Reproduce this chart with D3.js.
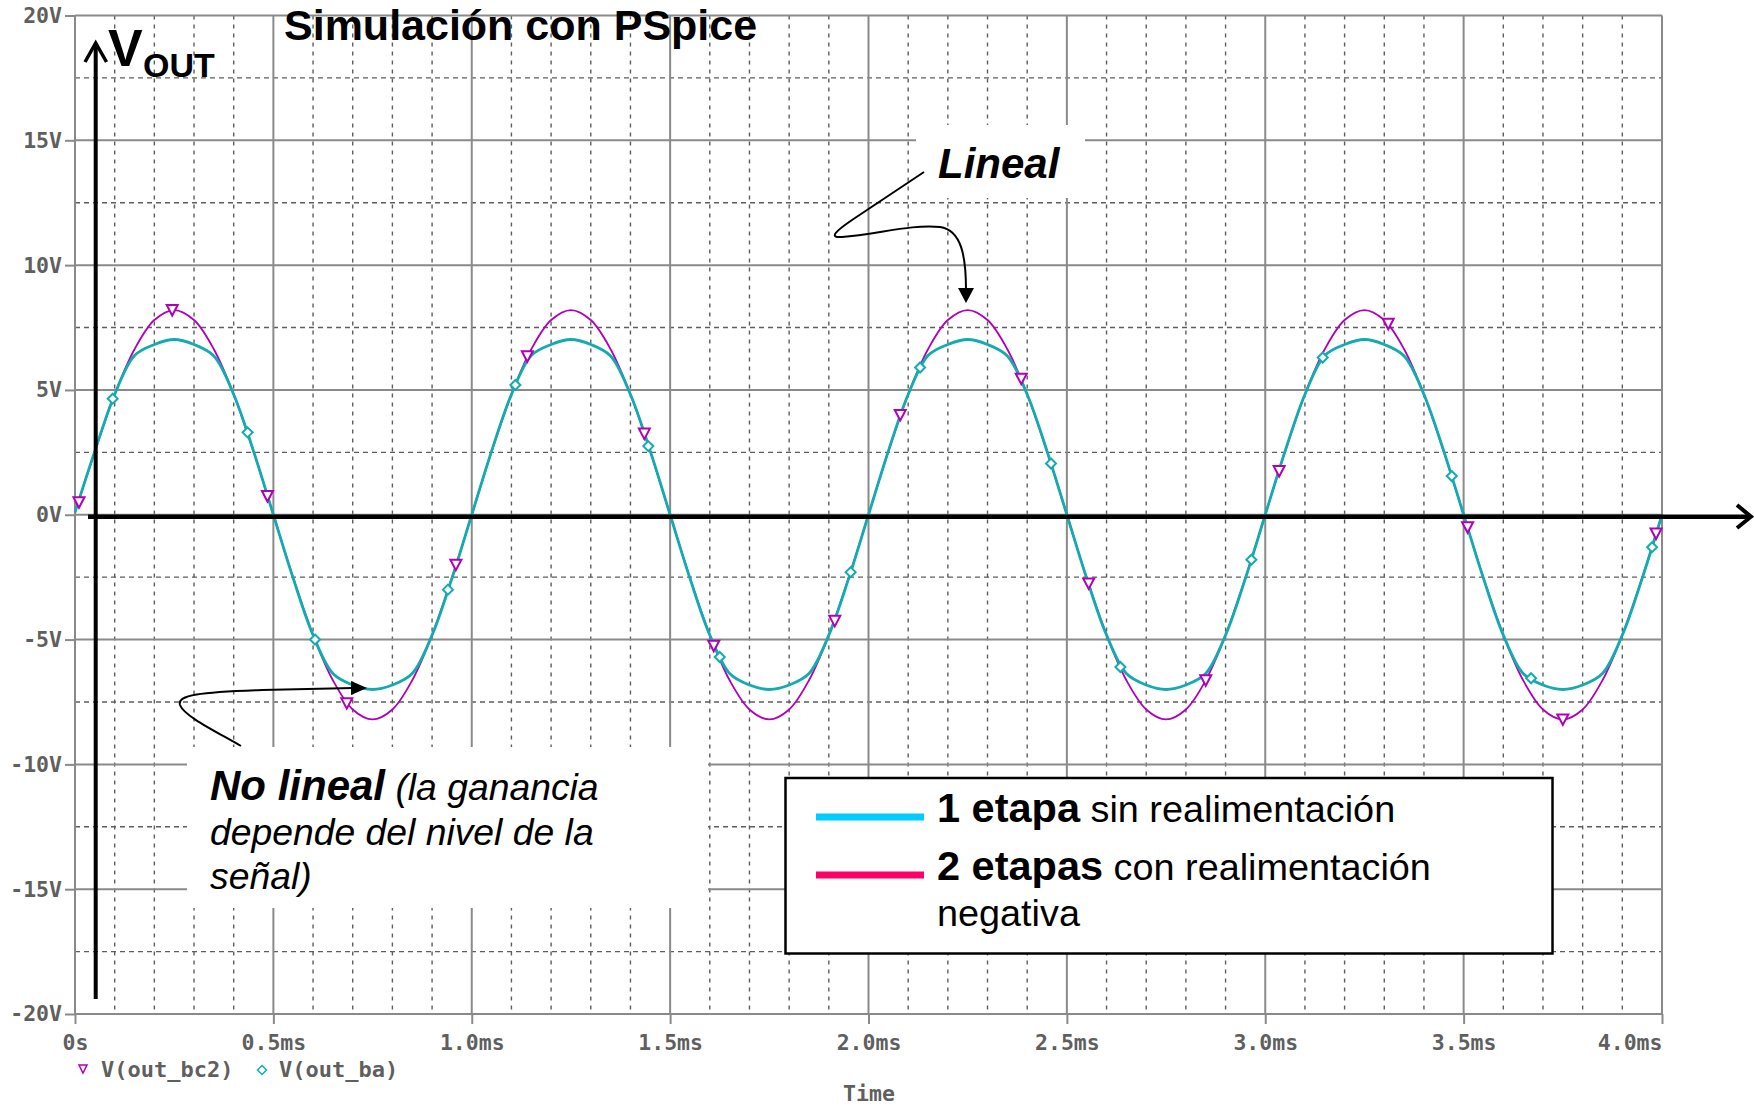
<!DOCTYPE html>
<html>
<head>
<meta charset="utf-8">
<script src="https://cdn.jsdelivr.net/npm/d3@7"></script>
<style>
  body { margin: 0; background: #fff; }
  svg { display: block; }
</style>
</head>
<body>
<div id="chart"></div>
<script>
// sample times (ms)
const timeMs = [
  0, 0.05, 0.1, 0.15, 0.2, 0.25, 0.3, 0.35, 0.4, 0.45,
  0.5, 0.55, 0.6, 0.65, 0.7, 0.75, 0.8, 0.85, 0.9, 0.95,
  1, 1.05, 1.1, 1.15, 1.2, 1.25, 1.3, 1.35, 1.4, 1.45,
  1.5, 1.55, 1.6, 1.65, 1.7, 1.75, 1.8, 1.85, 1.9, 1.95,
  2, 2.05, 2.1, 2.15, 2.2, 2.25, 2.3, 2.35, 2.4, 2.45,
  2.5, 2.55, 2.6, 2.65, 2.7, 2.75, 2.8, 2.85, 2.9, 2.95,
  3, 3.05, 3.1, 3.15, 3.2, 3.25, 3.3, 3.35, 3.4, 3.45,
  3.5, 3.55, 3.6, 3.65, 3.7, 3.75, 3.8, 3.85, 3.9, 3.95,
  4
]

// V(out_bc2) : 2 etapas con realimentación
const vOutBc2 = [
  0.1, 2.53, 4.82, 6.63, 7.8, 8.2, 7.8, 6.63, 4.82, 2.53,
  0, -2.53, -4.82, -6.63, -7.8, -8.2, -7.8, -6.63, -4.82, -2.53,
  0, 2.53, 4.82, 6.63, 7.8, 8.2, 7.8, 6.63, 4.82, 2.53,
  0, -2.53, -4.82, -6.63, -7.8, -8.2, -7.8, -6.63, -4.82, -2.53,
  0, 2.53, 4.82, 6.63, 7.8, 8.2, 7.8, 6.63, 4.82, 2.53,
  0, -2.53, -4.82, -6.63, -7.8, -8.2, -7.8, -6.63, -4.82, -2.53,
  0, 2.53, 4.82, 6.63, 7.8, 8.2, 7.8, 6.63, 4.82, 2.53,
  0, -2.53, -4.82, -6.63, -7.8, -8.2, -7.8, -6.63, -4.82, -2.53,
  0
]

// V(out_ba) : 1 etapa sin realimentación
const vOutBa = [
  0.1, 2.55, 4.82, 6.38, 6.82, 7.02, 6.82, 6.36, 4.82, 2.55,
  0, -2.55, -4.82, -6.36, -6.82, -7.0, -6.82, -6.36, -4.82, -2.55,
  0, 2.55, 4.82, 6.38, 6.82, 7.02, 6.82, 6.36, 4.82, 2.55,
  0, -2.55, -4.82, -6.36, -6.82, -7.0, -6.82, -6.36, -4.82, -2.55,
  0, 2.55, 4.82, 6.38, 6.82, 7.02, 6.82, 6.36, 4.82, 2.55,
  0, -2.55, -4.82, -6.36, -6.82, -7.0, -6.82, -6.36, -4.82, -2.55,
  0, 2.55, 4.82, 6.38, 6.82, 7.02, 6.82, 6.36, 4.82, 2.55,
  0, -2.55, -4.82, -6.36, -6.82, -7.0, -6.82, -6.36, -4.82, -2.55,
  0
]

// PSpice trace markers [time ms, volts]
const markersBc2 = [
  [0.01, 0.5], [0.245, 8.2], [0.485, 0.75], [0.685, -7.55], [0.96, -2.0],
  [1.14, 6.35], [1.435, 3.25], [1.61, -5.25], [1.915, -4.25], [2.08, 4.0],
  [2.385, 5.45], [2.555, -2.75], [2.85, -6.63], [3.035, 1.75], [3.31, 7.65],
  [3.51, -0.5], [3.75, -8.2], [3.985, -0.75]
]
const markersBa = [
  [0.095, 4.65], [0.435, 3.3], [0.605, -5.0], [0.94, -3.0], [1.11, 5.2],
  [1.445, 2.75], [1.625, -5.7], [1.955, -2.3], [2.13, 5.9], [2.46, 2.05],
  [2.635, -6.1], [2.965, -1.8], [3.145, 6.3], [3.47, 1.55], [3.67, -6.55],
  [3.975, -1.3]
]

// ticks
const xTicks = [0, 0.5, 1, 1.5, 2, 2.5, 3, 3.5, 4]
const xTickLabels = ['0s', '0.5ms', '1.0ms', '1.5ms', '2.0ms', '2.5ms', '3.0ms', '3.5ms', '4.0ms']
const yTicks = [20, 15, 10, 5, 0, -5, -10, -15, -20]
const yTickLabels = ['20V', '15V', '10V', '5V', '0V', '-5V', '-10V', '-15V', '-20V']

const width = 1754
const height = 1107
const mono = "'DejaVu Sans Mono', monospace"
const sans = "'Liberation Sans', Arial, sans-serif"
const magenta = '#b000b8'
const teal = '#14abb0'
const labelGrey = '#5f5f5f'

const svg = d3
  .select('#chart')
  .append('svg')
  .attr('width', width)
  .attr('height', height)

const x = d3.scaleLinear().domain([0, 4]).range([75, 1662])
const y = d3.scaleLinear().domain([-20, 20]).range([1014, 15.5])

// Grid: dashed minor lines first, then the solid ones
const xMinor = d3.range(1, 40).filter(i => i % 5 !== 0).map(i => i / 10)
const yMinor = d3.range(-17.5, 20, 5)

const grid = svg.append('g')

grid
  .selectAll('.v-minor')
  .data(xMinor)
  .enter()
  .append('line')
  .attr('x1', d => x(d))
  .attr('x2', d => x(d))
  .attr('y1', y(20))
  .attr('y2', y(-20))
  .attr('stroke', '#5e5e5e')
  .attr('stroke-width', 1.4)
  .attr('stroke-dasharray', '4,5')

grid
  .selectAll('.h-minor')
  .data(yMinor)
  .enter()
  .append('line')
  .attr('x1', x(0))
  .attr('x2', x(4))
  .attr('y1', d => y(d))
  .attr('y2', d => y(d))
  .attr('stroke', '#5e5e5e')
  .attr('stroke-width', 1.4)
  .attr('stroke-dasharray', '5,4')

grid
  .selectAll('.v-major')
  .data(xTicks)
  .enter()
  .append('line')
  .attr('x1', d => x(d))
  .attr('x2', d => x(d))
  .attr('y1', y(20))
  .attr('y2', y(-20))
  .attr('stroke', '#8a8a8a')
  .attr('stroke-width', 2)

grid
  .selectAll('.h-major')
  .data(yTicks)
  .enter()
  .append('line')
  .attr('x1', x(0))
  .attr('x2', x(4))
  .attr('y1', d => y(d))
  .attr('y2', d => y(d))
  .attr('stroke', '#8a8a8a')
  .attr('stroke-width', 2)

// Axes (PSpice style labels)
const yAxis = d3
  .axisLeft(y)
  .tickValues(yTicks)
  .tickFormat((d, i) => yTickLabels[i])
  .tickSize(10)
  .tickPadding(3)

const xAxis = d3
  .axisBottom(x)
  .tickValues(xTicks)
  .tickFormat((d, i) => xTickLabels[i])
  .tickSize(10)
  .tickPadding(11)

svg
  .append('g')
  .attr('class', 'y-axis')
  .attr('transform', 'translate(' + x(0) + ',0)')
  .call(yAxis)

svg
  .append('g')
  .attr('class', 'x-axis')
  .attr('transform', 'translate(0,' + y(-20) + ')')
  .call(xAxis)

svg.selectAll('.x-axis .domain, .y-axis .domain').remove()
svg
  .selectAll('.x-axis line, .y-axis line')
  .attr('stroke', '#8a8a8a')
  .attr('stroke-width', 2)
svg
  .selectAll('.x-axis text, .y-axis text')
  .attr('font-family', mono)
  .attr('font-weight', 'bold')
  .attr('font-size', 21.5)
  .attr('fill', labelGrey)
svg
  .selectAll('.x-axis text')
  .filter((d, i) => i === xTicks.length - 1)
  .attr('text-anchor', 'end')

// Traces
const traces = [
  { name: 'V(out_bc2)', values: vOutBc2, color: magenta, width: 1.8 },
  { name: 'V(out_ba)', values: vOutBa, color: teal, width: 2.8 }
]

const line = d3
  .line()
  .x((d, i) => x(timeMs[i]))
  .y(d => y(d))
  .curve(d3.curveCatmullRom.alpha(0.5))

svg
  .selectAll('.trace')
  .data(traces)
  .enter()
  .append('path')
  .attr('class', 'trace')
  .attr('d', d => line(d.values))
  .attr('fill', 'none')
  .attr('stroke', d => d.color)
  .attr('stroke-width', d => d.width)

const triangle = 'M-5.5,-5L5.5,-5L0,5.5Z'
const diamond = 'M0,-5L5,0L0,5L-5,0Z'

svg
  .selectAll('.mk-bc2')
  .data(markersBc2)
  .enter()
  .append('path')
  .attr('d', triangle)
  .attr('transform', d => 'translate(' + x(d[0]) + ',' + y(d[1]) + ')')
  .attr('fill', '#fff')
  .attr('stroke', magenta)
  .attr('stroke-width', 2)

svg
  .selectAll('.mk-ba')
  .data(markersBa)
  .enter()
  .append('path')
  .attr('d', diamond)
  .attr('transform', d => 'translate(' + x(d[0]) + ',' + y(d[1]) + ')')
  .attr('fill', '#fff')
  .attr('stroke', teal)
  .attr('stroke-width', 2)

// trace legend under the axis
svg
  .append('path')
  .attr('d', 'M-4,-4L4,-4L0,4Z')
  .attr('transform', 'translate(83,1069)')
  .attr('fill', 'none')
  .attr('stroke', magenta)
  .attr('stroke-width', 1.5)
svg
  .append('text')
  .text(traces[0].name)
  .attr('x', 101)
  .attr('y', 1077)
  .attr('font-family', mono)
  .attr('font-weight', 'bold')
  .attr('font-size', 22)
  .attr('fill', labelGrey)
svg
  .append('path')
  .attr('d', 'M0,-4.5L4.5,0L0,4.5L-4.5,0Z')
  .attr('transform', 'translate(262,1070)')
  .attr('fill', 'none')
  .attr('stroke', teal)
  .attr('stroke-width', 1.5)
svg
  .append('text')
  .text(traces[1].name)
  .attr('x', 279)
  .attr('y', 1077)
  .attr('font-family', mono)
  .attr('font-weight', 'bold')
  .attr('font-size', 22)
  .attr('fill', labelGrey)
svg
  .append('text')
  .text('Time')
  .attr('x', 869)
  .attr('y', 1101)
  .attr('text-anchor', 'middle')
  .attr('font-family', mono)
  .attr('font-weight', 'bold')
  .attr('font-size', 21.5)
  .attr('fill', labelGrey)

// Black axis arrows drawn over the plot
svg
  .append('line')
  .attr('x1', 88)
  .attr('x2', 1751)
  .attr('y1', 516.7)
  .attr('y2', 516.7)
  .attr('stroke', '#000')
  .attr('stroke-width', 4.5)
svg
  .append('path')
  .attr('d', 'M1737,505L1751,516.7L1737,528')
  .attr('fill', 'none')
  .attr('stroke', '#000')
  .attr('stroke-width', 4)
svg
  .append('line')
  .attr('x1', 95.7)
  .attr('x2', 95.7)
  .attr('y1', 999)
  .attr('y2', 44)
  .attr('stroke', '#000')
  .attr('stroke-width', 4)
svg
  .append('path')
  .attr('d', 'M85,62L95.7,43L106.5,62')
  .attr('fill', 'none')
  .attr('stroke', '#000')
  .attr('stroke-width', 3.5)

svg
  .append('text')
  .attr('x', 108)
  .attr('y', 66)
  .attr('font-family', sans)
  .attr('font-weight', 'bold')
  .attr('font-size', 52)
  .text('V')
  .append('tspan')
  .attr('x', 143)
  .attr('y', 77)
  .attr('font-size', 34)
  .text('OUT')

svg
  .append('text')
  .attr('x', 284)
  .attr('y', 40)
  .attr('font-family', sans)
  .attr('font-weight', 'bold')
  .attr('font-size', 43)
  .text('Simulación con PSpice')

// "Lineal" callout
svg
  .append('rect')
  .attr('x', 916)
  .attr('y', 125)
  .attr('width', 169)
  .attr('height', 73)
  .attr('fill', '#fff')
svg
  .append('text')
  .attr('x', 938)
  .attr('y', 178)
  .attr('font-family', sans)
  .attr('font-weight', 'bold')
  .attr('font-style', 'italic')
  .attr('font-size', 42)
  .text('Lineal')
svg
  .append('path')
  .attr('d', 'M924,172L852,220C836,231 828,238 842,237C878,234 912,224 940,227C962,230 966,258 966,290')
  .attr('fill', 'none')
  .attr('stroke', '#000')
  .attr('stroke-width', 2)
svg
  .append('path')
  .attr('d', 'M958,288L974,288L966,303Z')
  .attr('fill', '#000')

// "No lineal" callout
svg
  .append('rect')
  .attr('x', 187)
  .attr('y', 747)
  .attr('width', 521)
  .attr('height', 161)
  .attr('fill', '#fff')
svg
  .append('path')
  .attr('d', 'M241,746C215,731 184,716 180,705C177,695 200,692 262,690L353,688')
  .attr('fill', 'none')
  .attr('stroke', '#000')
  .attr('stroke-width', 2)
svg
  .append('path')
  .attr('d', 'M351,681L367,688L351,695Z')
  .attr('fill', '#000')

const noLin = svg
  .append('text')
  .attr('font-family', sans)
  .attr('font-style', 'italic')
  .attr('font-size', 37.3)
noLin
  .append('tspan')
  .attr('x', 210)
  .attr('y', 800)
  .attr('font-weight', 'bold')
  .attr('font-size', 42)
  .text('No lineal')
noLin.append('tspan').text(' (la ganancia')
noLin
  .append('tspan')
  .attr('x', 210)
  .attr('y', 845)
  .text('depende del nivel de la')
noLin
  .append('tspan')
  .attr('x', 210)
  .attr('y', 889)
  .text('señal)')

// Slide legend box
const legendItems = [
  { bold: '1 etapa', rest: ' sin realimentación', color: '#00ccff', y: 822 },
  { bold: '2 etapas', rest: ' con realimentación', color: '#ff0066', y: 880 }
]

svg
  .append('rect')
  .attr('x', 785.5)
  .attr('y', 778)
  .attr('width', 767)
  .attr('height', 175.5)
  .attr('fill', '#fff')
  .attr('stroke', '#000')
  .attr('stroke-width', 2.5)

const items = svg
  .selectAll('.legend-item')
  .data(legendItems)
  .enter()
  .append('g')

items
  .append('line')
  .attr('x1', 816)
  .attr('x2', 924)
  .attr('y1', d => d.y - 5)
  .attr('y2', d => d.y - 5)
  .attr('stroke', d => d.color)
  .attr('stroke-width', 7)

const itemText = items
  .append('text')
  .attr('x', 937)
  .attr('y', d => d.y)
  .attr('font-family', sans)
  .attr('font-size', 37.8)
itemText
  .append('tspan')
  .attr('font-weight', 'bold')
  .attr('font-size', 41.5)
  .text(d => d.bold)
itemText.append('tspan').text(d => d.rest)

svg
  .append('text')
  .attr('x', 937)
  .attr('y', 926)
  .attr('font-family', sans)
  .attr('font-size', 37.8)
  .text('negativa')
</script>
</body>
</html>
